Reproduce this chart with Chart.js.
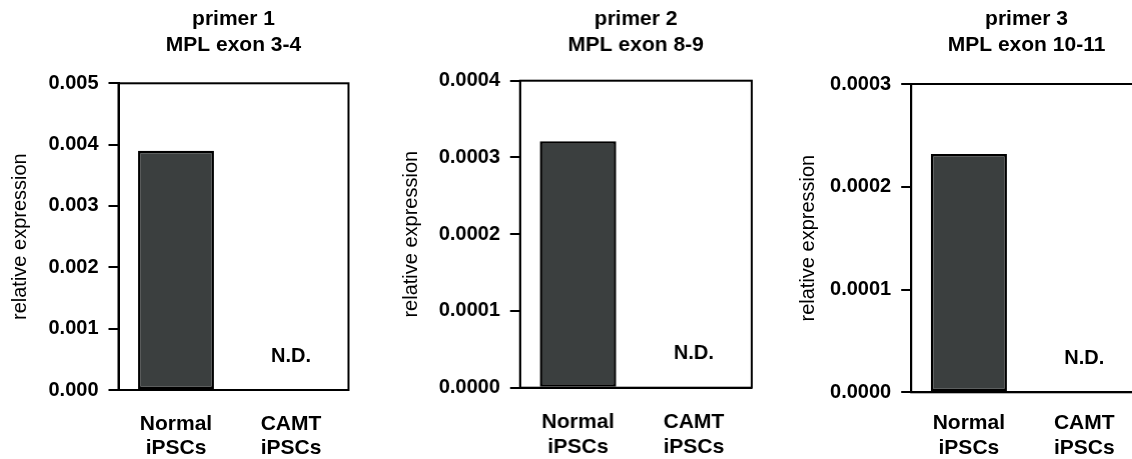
<!DOCTYPE html>
<html lang="en">
<head>
    <meta charset="UTF-8">
    <title>MPL relative expression</title>
    <script src="https://cdn.jsdelivr.net/npm/chart.js"></script>
    <style>
        html, body { margin: 0; padding: 0; background: #fff; overflow: hidden; }
        body { width: 1132px; height: 459px; position: relative; }
        .panel { position: absolute; top: 0; height: 459px; }
    </style>
</head>
<body>
    <div class="panel" id="p1"><canvas id="chart1"></canvas></div>
    <div class="panel" id="p2"><canvas id="chart2"></canvas></div>
    <div class="panel" id="p3"><canvas id="chart3"></canvas></div>

    <script>
        // data
        const categories = [['Normal', 'iPSCs'], ['CAMT', 'iPSCs']];
        const panelTitles = [
            ['primer 1', 'MPL exon 3-4'],
            ['primer 2', 'MPL exon 8-9'],
            ['primer 3', 'MPL exon 10-11']
        ];
        const primer1Values = [0.0039, null];
        const primer2Values = [0.000321, null];
        const primer3Values = [0.000232, null];
        const yMaxValues = [0.005, 0.0004, 0.0003];
        const yStepSizes = [0.001, 0.0001, 0.0001];
        const tickDecimals = [3, 4, 4];
        const yAxisTitle = 'relative expression';
        const notDetectedLabel = 'N.D.';

        // layout of each panel (px)
        const panels = [
            { id: 'p1', canvas: 'chart1', values: primer1Values, left: 7.5, yWidth: 110.5, plotWidth: 230, plotTop: 83.3, xHeight: 69, xPad: 13.5 },
            { id: 'p2', canvas: 'chart2', values: primer2Values, left: 399.2, yWidth: 120.8, plotWidth: 231, plotTop: 80.7, xHeight: 71.3, xPad: 14 },
            { id: 'p3', canvas: 'chart3', values: primer3Values, left: 795.5, yWidth: 115.2, plotWidth: 230.7, plotTop: 84, xHeight: 66.7, xPad: 10.5 }
        ];

        const FONT = "'Liberation Sans', Arial, Helvetica, sans-serif";
        const BAR_FILL = '#3b3f3f';
        const RIGHT_PAD = 45;

        // panel title, box around the plot area, N.D. marks
        const framePlugin = {
            id: 'frame',
            afterDatasetsDraw(chart) {
                const { ctx, chartArea } = chart;
                const x = chart.scales.x, y = chart.scales.y;
                ctx.save();
                ctx.strokeStyle = '#000';
                ctx.lineWidth = 2;
                ctx.strokeRect(chartArea.left, chartArea.top, chartArea.right - chartArea.left, chartArea.bottom - chartArea.top);

                ctx.fillStyle = '#000';
                ctx.textAlign = 'center';
                ctx.textBaseline = 'middle';
                ctx.font = 'bold 21px ' + FONT;
                const cx = (chartArea.left + chartArea.right) / 2;
                chart.options.plugins.frame.title.forEach((line, k) => {
                    ctx.fillText(line, cx, 19 + k * 26);
                });

                ctx.font = 'bold 20px ' + FONT;
                chart.data.datasets[0].data.forEach((v, i) => {
                    if (v === null) {
                        ctx.fillText(notDetectedLabel, x.getPixelForValue(i), y.getPixelForValue(0) - 34);
                    }
                });
                ctx.restore();
            }
        };

        panels.forEach((p, i) => {
            const box = document.getElementById(p.id);
            box.style.left = p.left + 'px';
            box.style.width = (p.yWidth + p.plotWidth + RIGHT_PAD) + 'px';

            new Chart(document.getElementById(p.canvas), {
                type: 'bar',
                data: {
                    labels: categories,
                    datasets: [{
                        data: p.values,
                        backgroundColor: BAR_FILL,
                        borderColor: '#000',
                        borderWidth: 2.5,
                        borderSkipped: false,
                        categoryPercentage: 1,
                        barPercentage: 0.66
                    }]
                },
                options: {
                    responsive: true,
                    maintainAspectRatio: false,
                    animation: false,
                    layout: { padding: { left: 0, right: RIGHT_PAD, top: p.plotTop, bottom: 0 } },
                    plugins: {
                        legend: { display: false },
                        tooltip: { enabled: false },
                        title: { display: false },
                        frame: { title: panelTitles[i] }
                    },
                    scales: {
                        x: {
                            grid: { display: false },
                            border: { color: '#000', width: 2 },
                            ticks: {
                                color: '#000',
                                padding: p.xPad,
                                maxRotation: 0,
                                font: { family: FONT, size: 21, weight: 'bold', lineHeight: 1.18 }
                            },
                            afterFit: (scale) => { scale.height = p.xHeight; }
                        },
                        y: {
                            min: 0,
                            max: yMaxValues[i],
                            grid: { drawOnChartArea: false, drawTicks: true, tickLength: 10, color: '#000', lineWidth: 2 },
                            border: { color: '#000', width: 2 },
                            ticks: {
                                stepSize: yStepSizes[i],
                                color: '#000',
                                padding: 10,
                                font: { family: FONT, size: 20, weight: 'bold' },
                                callback: (v) => Number(v).toFixed(tickDecimals[i])
                            },
                            title: {
                                display: true,
                                text: yAxisTitle,
                                color: '#000',
                                padding: 0,
                                font: { family: FONT, size: 20, weight: 'normal', lineHeight: 1.2 }
                            },
                            afterFit: (scale) => { scale.width = p.yWidth; }
                        }
                    }
                },
                plugins: [framePlugin]
            });
        });
    </script>
</body>
</html>
